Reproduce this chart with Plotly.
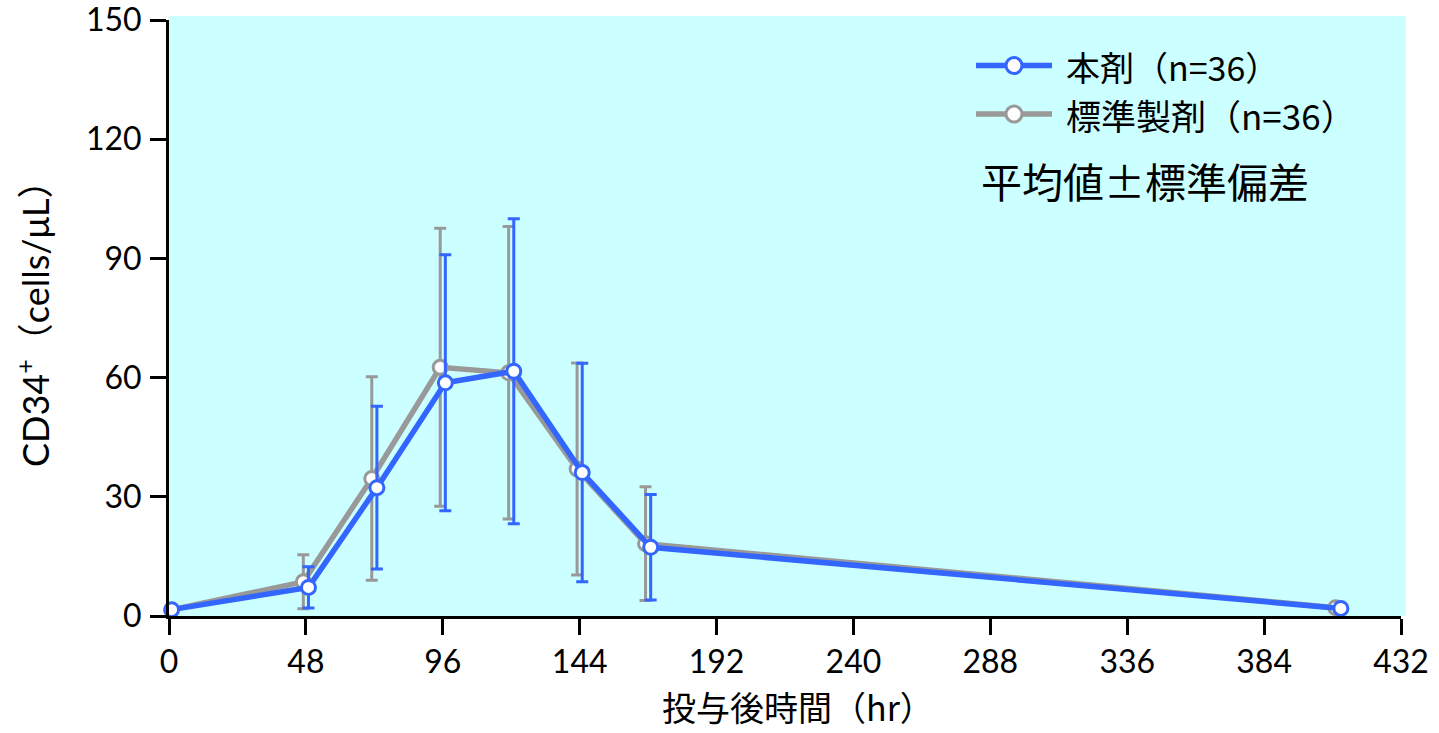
import plotly.graph_objects as go

# Sampling times after dosing (hr)
times = [0, 48, 72, 96, 120, 144, 168, 410]

# CD34+ counts (cells/uL), mean and SD
test_mean = [1.6, 7.2, 32.3, 58.7, 61.6, 36.1, 17.3, 1.9]
test_sd = [0.5, 5.2, 20.5, 32.2, 38.4, 27.5, 13.3, 0.8]
ref_mean = [1.3, 8.6, 34.6, 62.6, 61.2, 37.0, 18.2, 2.1]
ref_sd = [0.5, 6.8, 25.6, 35.0, 36.8, 26.7, 14.3, 1.0]

x_ticks = [0, 48, 96, 144, 192, 240, 288, 336, 384, 432]
y_ticks = [0, 30, 60, 90, 120, 150]

legend_labels = ["本剤（n=36）", "標準製剤（n=36）"]
note_text = "平均値±標準偏差"
x_title = "投与後時間（hr）"
y_title = "CD34<sup>+</sup>（cells/μL）"

BLUE = "#3366FF"
GRAY = "#999999"
BG = "#CCFFFF"
DODGE = 0.9  # small horizontal shift so the two series don't overlap

W_PX, H_PX = 1439, 733
L, R, T, B = 169, 1401, 20, 616


def px_x(px):
    return (px - L) / (R - L)


def px_y(py):
    return (B - py) / (B - T)


fig = go.Figure()

for mean, sd, color, sign in [(ref_mean, ref_sd, GRAY, -1), (test_mean, test_sd, BLUE, 1)]:
    fig.add_trace(go.Scatter(
        x=[t + sign * DODGE for t in times],
        y=mean,
        mode="lines+markers",
        line=dict(color=color, width=5.5),
        marker=dict(symbol="circle", size=14, color="white",
                    line=dict(color=color, width=3)),
        error_y=dict(type="data", array=sd, visible=True, color=color,
                     thickness=3, width=6),
        cliponaxis=False,
        showlegend=False,
    ))

shapes = [
    dict(type="rect", xref="paper", yref="paper",
         x0=0, x1=px_x(1406), y0=0, y1=px_y(16),
         fillcolor=BG, line=dict(width=0), layer="below"),
]
annotations = []

# Hand-built key
key_rows = [(65.5, BLUE, legend_labels[0], 34), (114, GRAY, legend_labels[1], 35)]
for py, color, label, fs in key_rows:
    shapes.append(dict(type="line", xref="paper", yref="paper",
                       x0=px_x(976), x1=px_x(1052), y0=px_y(py), y1=px_y(py),
                       line=dict(color=color, width=5.5)))
    shapes.append(dict(type="circle", xref="paper", yref="paper",
                       xsizemode="pixel", ysizemode="pixel",
                       xanchor=px_x(1014), yanchor=px_y(py),
                       x0=-8, x1=8, y0=-8, y1=8,
                       fillcolor="white", line=dict(color=color, width=3)))
    annotations.append(dict(xref="paper", yref="paper", x=px_x(1064), y=px_y(py + 1),
                            text=label, showarrow=False, xanchor="left", yanchor="middle",
                            font=dict(family="Noto Sans CJK JP", size=fs, color="black")))

annotations.append(dict(xref="paper", yref="paper", x=px_x(979), y=px_y(180),
                        text=note_text, showarrow=False, xanchor="left", yanchor="middle",
                        font=dict(family="Noto Sans CJK JP", size=41, color="black")))

annotations.append(dict(xref="paper", yref="paper", x=px_x(798), y=px_y(706),
                        text=x_title, showarrow=False, xanchor="center", yanchor="middle",
                        font=dict(family="Noto Sans CJK JP", size=34, color="black")))

annotations.append(dict(xref="paper", yref="paper", x=px_x(33), y=px_y(315),
                        text=y_title, showarrow=False, textangle=-90,
                        xanchor="center", yanchor="middle",
                        font=dict(family="Lato, Noto Sans CJK JP", size=36, color="black")))

axis_common = dict(
    showline=True, linecolor="black", linewidth=3,
    ticks="outside", ticklen=16, tickwidth=3, tickcolor="black",
    showgrid=False, zeroline=False,
    tickfont=dict(family="Lato", size=32, color="black"),
    ticklabeloverflow="allow",
    automargin=False,
    fixedrange=True,
)

fig.update_layout(
    width=W_PX, height=H_PX,
    margin=dict(l=L, r=W_PX - R, t=T, b=H_PX - B, pad=0, autoexpand=False),
    paper_bgcolor="white",
    plot_bgcolor=BG,
    shapes=shapes,
    annotations=annotations,
    xaxis=dict(range=[0, 432], tickvals=x_ticks, ticktext=[str(v) for v in x_ticks],
               ticklabelstandoff=0, **axis_common),
    yaxis=dict(range=[y_ticks[0], y_ticks[-1]], tickvals=y_ticks,
               ticktext=[str(v) for v in y_ticks], ticklabelstandoff=2, **axis_common),
)

fig.write_html("out.html")
